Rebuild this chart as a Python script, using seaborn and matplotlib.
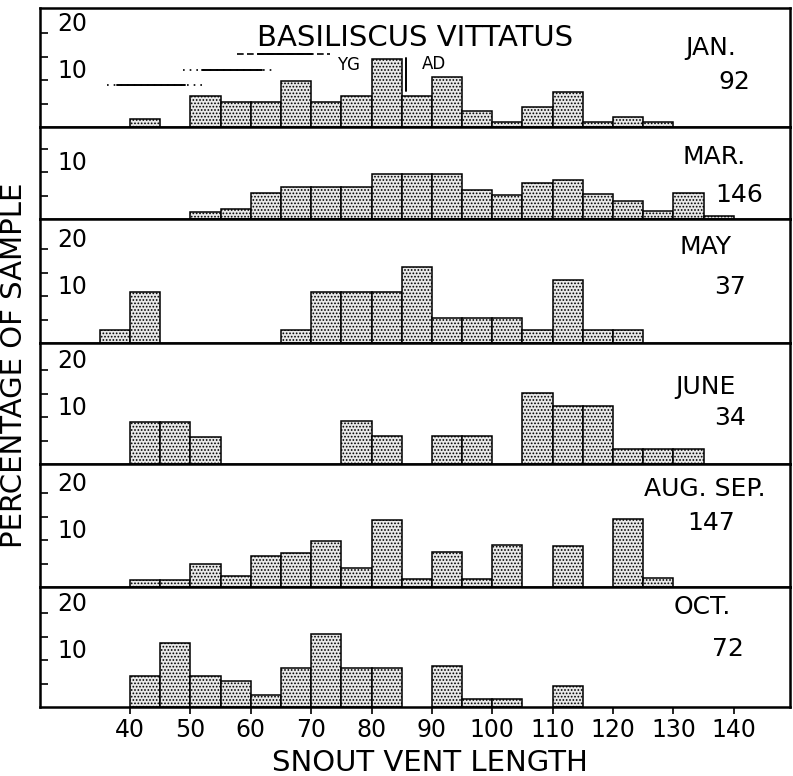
import numpy as np
import pandas as pd
import matplotlib
matplotlib.use("Agg")
import matplotlib.pyplot as plt
import matplotlib.transforms as mtransforms
import seaborn as sns

# ---- data: percentage of sample per 5 mm snout-vent-length class ----
bin_starts = [35, 40, 45, 50, 55, 60, 65, 70, 75, 80, 85, 90, 95, 100,
              105, 110, 115, 120, 125, 130, 135]

months = ["JAN.", "MAR.", "MAY", "JUNE", "AUG. SEP.", "OCT."]
sample_sizes = ["92", "146", "37", "34", "147", "72"]

pct_jan = [0, 1.6, 0, 6.5, 5.4, 5.4, 9.8, 5.4, 6.5, 14.5, 6.7, 10.6, 3.3, 1.0,
           4.3, 7.5, 1.0, 2.2, 1.0, 0, 0]
pct_mar = [0, 0, 0, 1.4, 2.1, 5.5, 6.8, 6.8, 6.8, 9.6, 9.5, 9.5, 6.2, 5.1,
           7.7, 8.3, 5.3, 3.9, 1.6, 5.5, 0.6]
pct_may = [2.7, 10.8, 0, 0, 0, 0, 2.7, 10.8, 10.8, 10.8, 16.2, 5.4, 5.4, 5.4,
           2.7, 13.5, 2.7, 2.7, 0, 0, 0]
pct_jun = [0, 8.9, 8.9, 5.8, 0, 0, 0, 0, 9.2, 6.0, 0, 6.0, 6.0, 0,
           15.1, 12.3, 12.3, 3.2, 3.2, 3.2, 0]
pct_aug = [0, 1.5, 1.5, 4.9, 2.3, 6.5, 7.3, 9.8, 4.0, 14.3, 1.8, 7.5, 1.7, 9.0,
           0, 8.8, 0, 14.5, 2.0, 0, 0]
pct_oct = [0, 6.7, 13.6, 6.7, 5.5, 2.5, 8.2, 15.6, 8.3, 8.3, 0, 8.7, 1.6, 1.6,
           0, 4.5, 0, 0, 0, 0, 0]
panels = [pct_jan, pct_mar, pct_may, pct_jun, pct_aug, pct_oct]

# size-class ranges drawn in the January panel (mm, level in %)
range_levels = [8.9, 12.1, 15.5]
range_solid = [(37.9, 49.1), (51.9, 61.8), (61.2, 70.1)]
range_broken = [(36.2, 52.1), (48.8, 64.1), (57.7, 73.1)]
adult_limit = 85.7
adult_span = (7.7, 14.6)

x_ticks = [40, 50, 60, 70, 80, 90, 100, 110, 120, 130, 140]

# ---- layout (pixels of a 793 x 776 figure) ----
W, H = 793, 776
panel_edges = [8, 127, 219, 343, 464, 587, 707]
panel_px = [b - a for a, b in zip(panel_edges[:-1], panel_edges[1:])]
px_per_pct = 4.7
ax_left, ax_right = 40, 790
x_lo, x_hi = 25.1, 149.3

# label positions (pixel centres) for month and sample size
month_pos = [(711, 48), (714, 157), (706, 247), (705, 387), (705, 489), (702, 607)]
size_pos = [(734, 82), (739, 195), (730, 287), (730, 418), (711, 523), (728, 649)]

sns.set_theme(style="white")
plt.rcParams.update({
    "font.family": ["DejaVu Sans"],
    "hatch.linewidth": 0.8,
    "text.color": "black",
    "axes.labelcolor": "black",
    "xtick.color": "black",
    "ytick.color": "black",
})

fig = plt.figure(figsize=(W / 100, H / 100), dpi=100)
gs = fig.add_gridspec(6, 1, height_ratios=panel_px,
                      left=ax_left / W, right=ax_right / W,
                      top=1 - panel_edges[0] / H, bottom=1 - panel_edges[-1] / H,
                      hspace=0)

mids = [b + 2.5 for b in bin_starts]


def to_axes(i, px, py):
    top, bot = panel_edges[i], panel_edges[i + 1]
    return (px - ax_left) / (ax_right - ax_left), (bot - py) / (bot - top)


axes = []
for i, vals in enumerate(panels):
    ax = fig.add_subplot(gs[i])
    axes.append(ax)
    df = pd.DataFrame({"svl": mids, "pct": vals})
    sns.histplot(data=df, x="svl", weights="pct", binwidth=5,
                 binrange=(35, 140), ax=ax,
                 facecolor="#e8e8e8", edgecolor="black", linewidth=1.1,
                 hatch=".....", alpha=1)
    # empty size classes get no outline on the baseline
    for p in ax.patches:
        if p.get_height() <= 0:
            p.set_visible(False)
    ymax = panel_px[i] / px_per_pct
    ax.set_xlim(x_lo, x_hi)
    ax.set_ylim(0, ymax)
    ax.set_xlabel("")
    ax.set_ylabel("")
    for s in ax.spines.values():
        s.set_visible(True)
        s.set_color("black")
        s.set_linewidth(1.8)

    yt = [v for v in (5, 10, 15, 20) if v < ymax - 1]
    ax.set_yticks(yt)
    ax.tick_params(axis="y", direction="in", length=6, width=1.2,
                   labelleft=False, left=True, color="black")
    trans = mtransforms.blended_transform_factory(ax.transAxes, ax.transData)
    for v in (10, 20):
        if v < ymax - 1:
            ax.text(17 / (ax_right - ax_left), v + 2, str(v), transform=trans,
                    ha="left", va="center", fontsize=17)

    mx, my = to_axes(i, *month_pos[i])
    ax.text(mx, my, months[i], transform=ax.transAxes, ha="center",
            va="center", fontsize=18)
    sx, sy = to_axes(i, *size_pos[i])
    ax.text(sx, sy, sample_sizes[i], transform=ax.transAxes, ha="center",
            va="center", fontsize=18)

    if i < 5:
        ax.set_xticks([])
    else:
        ax.set_xticks(x_ticks)
        ax.set_xticklabels([str(t) for t in x_ticks], fontsize=17)
        ax.tick_params(axis="x", direction="out", length=5, width=1.2,
                       bottom=True, pad=3, color="black")

# January panel: title and size-class ranges
ax0 = axes[0]
tx, ty = to_axes(0, 415, 38)
ax0.text(tx, ty, "BASILISCUS VITTATUS", transform=ax0.transAxes,
         ha="center", va="center", fontsize=21)
styles = [(0, (1, 3)), (0, (1, 3)), (0, (4, 2))]
for lvl, (s0, s1), (b0, b1), ls in zip(range_levels, range_solid,
                                       range_broken, styles):
    ax0.plot([b0, b1], [lvl, lvl], color="black", lw=1.2, linestyle=ls)
    ax0.plot([s0, s1], [lvl, lvl], color="black", lw=1.4)
ax0.text(76.2, 13.1, "YG", ha="center", va="center", fontsize=12)
ax0.plot([adult_limit, adult_limit], adult_span, color="black", lw=1.4)
ax0.text(90.3, 13.5, "AD", ha="center", va="center", fontsize=12)

fig.text(14 / W, 1 - 365 / H, "PERCENTAGE OF SAMPLE", rotation=90,
         ha="center", va="center", fontsize=21)
fig.text(430 / W, 1 - 763 / H, "SNOUT VENT LENGTH", ha="center",
         va="center", fontsize=21)

fig.savefig("out.png", dpi=100, facecolor="white")
